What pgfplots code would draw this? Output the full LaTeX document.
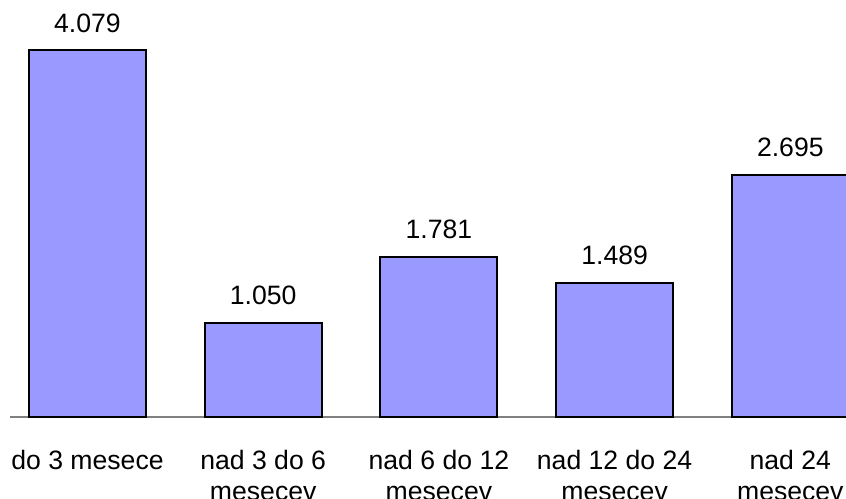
\documentclass[border=0pt]{standalone}
\usepackage{pgfplots}
\pgfplotsset{compat=1.18}
\usepackage{fontspec}
\setmainfont{Liberation Sans}
\definecolor{barblue}{RGB}{153,153,255}
\definecolor{basegray}{RGB}{128,128,128}
\begin{document}
\begin{tikzpicture}
\useasboundingbox (-5pt,-40.5pt) rectangle (418pt,208.5pt);
\begin{axis}[
  scale only axis,
  width=418pt, height=208.5pt,
  xmin=-0.441, xmax=4.317,
  ymin=0, ymax=4.64,
  axis x line*=bottom,
  axis y line=none,
  x axis line style={draw=basegray, line width=0.6pt, -},
  xtick={0,1,2,3,4},
  xticklabels={{do 3 mesece},{nad 3 do 6\\mesecev},{nad 6 do 12\\mesecev},{nad 12 do 24\\mesecev},{nad 24\\mesecev}},
  major tick length=0pt,
  xticklabel style={font=\fontsize{13.3}{15.2}\selectfont, align=center, anchor=north, inner sep=0pt, yshift=-16.5pt},
  ybar, bar width=58.5pt,
  point meta=explicit symbolic,
  nodes near coords,
  every node near coord/.append style={font=\fontsize{13.3}{15}\selectfont, anchor=south, inner sep=0pt, yshift=8.5pt, text=black},
  clip=true,
]
\addplot[fill=barblue, draw=black, line width=1pt] coordinates {
  (0,4.079) [4.079]
  (1,1.050) [1.050]
  (2,1.781) [1.781]
  (3,1.489) [1.489]
  (4,2.695) [2.695]
};
\end{axis}
\end{tikzpicture}
\end{document}
